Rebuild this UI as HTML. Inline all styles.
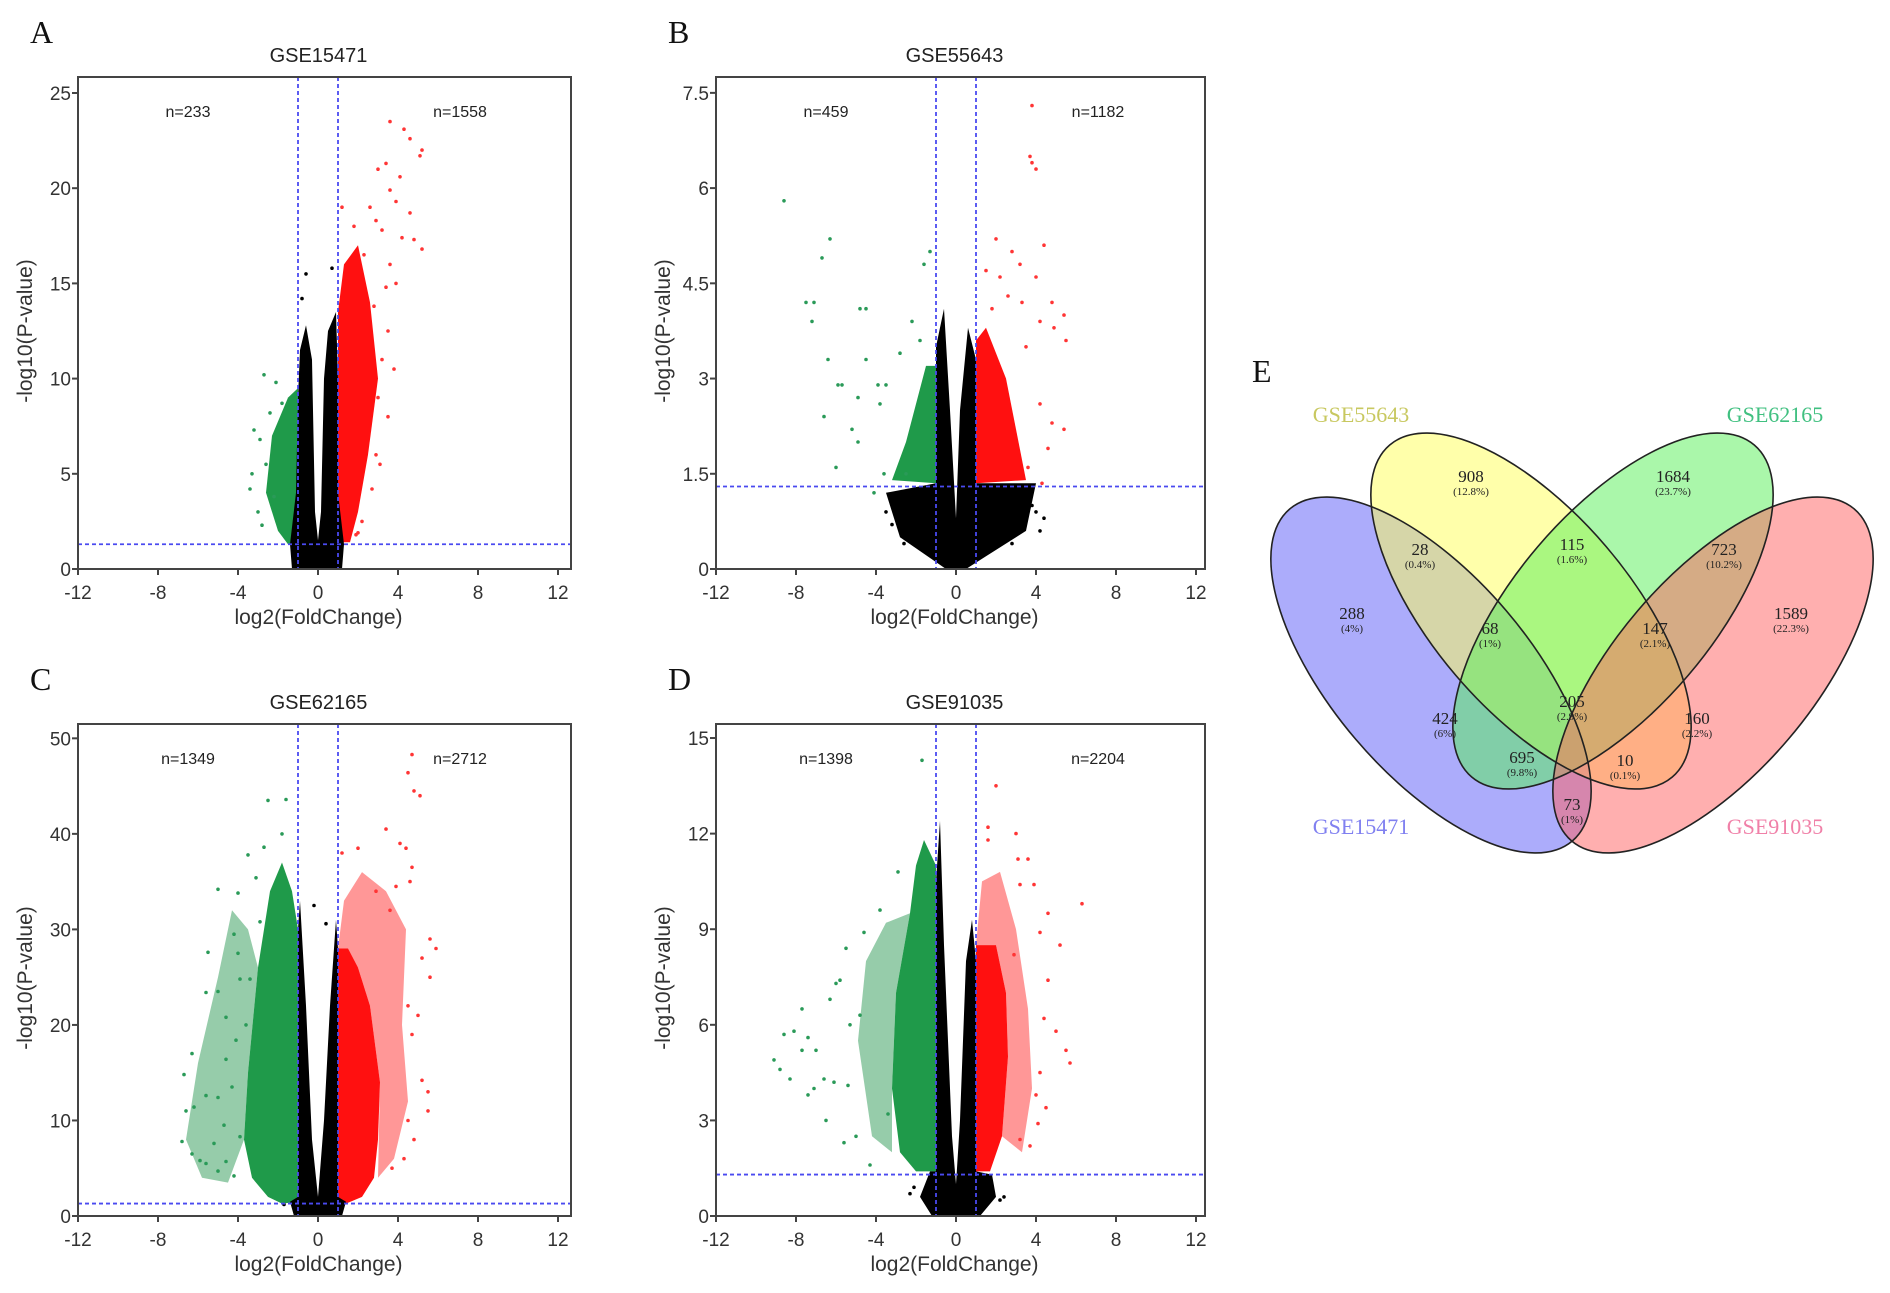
<!DOCTYPE html>
<html><head><meta charset="utf-8"><style>
html,body{margin:0;padding:0;background:#fff;}
svg{display:block;}
</style></head><body>
<svg id="fig" width="1890" height="1293" viewBox="0 0 1890 1293" xmlns="http://www.w3.org/2000/svg" font-family="Liberation Sans, sans-serif">
<rect width="1890" height="1293" fill="#fff"/>
<g id="venn"></g>
</svg>
<script>
// ---------- volcano data ----------
const xTicks = [-12,-8,-4,0,4,8,12];
const panelTitles = ["GSE15471","GSE55643","GSE62165","GSE91035"];
const panelLetters = ["A","B","C","D"];
const panelDown = ["n=233","n=459","n=1349","n=1398"];
const panelUp = ["n=1558","n=1182","n=2712","n=2204"];
const yTicksA = [0,5,10,15,20,25];
const yTicksB = [0,1.5,3,4.5,6,7.5];
const yTicksC = [0,10,20,30,40,50];
const yTicksD = [0,3,6,9,12,15];
const pCut = 1.3;
const fcCut = 1;

const blackA = [[-1.3,0],[-1.4,1.3],[-1.1,4],[-1.0,9],[-0.9,11.5],[-0.6,12.8],[-0.3,11],[-0.15,3],[0,1.5],[0.15,3],[0.3,10],[0.5,12.5],[0.9,13.5],[1.0,10],[1.0,4],[1.3,1.3],[1.2,0]];
const redCoreA = [[1,1.4],[1,13.5],[1.3,16],[2,17],[2.6,14],[3,10],[2.5,6],[2,3],[1.6,1.4]];
const greenCoreA = [[-1,1.4],[-1,9.5],[-1.5,9],[-2.3,7],[-2.6,4],[-2,2],[-1.5,1.3]];
const redPtsA = [[3.6,23.5],[4.3,23.1],[4.6,22.6],[5.2,22],[5.1,21.7],[3.0,21],[3.4,21.3],[4.1,20.6],[3.6,19.9],[3.9,19.3],[4.6,18.7],[2.6,19],[2.9,18.3],[3.2,17.8],[4.2,17.4],[5.2,16.8],[4.8,17.3],[1.2,19],[1.8,18],[2.3,16.5],[3.6,16],[3.4,14.8],[3.9,15],[2.8,13.8],[3.5,12.5],[3.2,11],[3.8,10.5],[3.0,9],[3.5,8],[2.9,6],[3.1,5.5],[2.7,4.2],[1.9,1.8],[2.2,2.5],[2.0,1.9]];
const greenPtsA = [[-2.7,10.2],[-2.1,9.8],[-3.2,7.3],[-2.9,6.8],[-3.4,4.2],[-2.6,5.5],[-3.0,3],[-2.2,3.8],[-2.8,2.3],[-1.8,8.7],[-2.4,8.2],[-3.3,5]];
const blackPtsA = [[-0.6,15.5],[-0.8,14.2],[0.7,15.8]];

const blackB = [[-0.5,0],[-2.8,0.5],[-3.5,1.2],[-1,1.35],[-1,3.5],[-0.6,4.1],[-0.3,2.5],[0,0.8],[0.2,2.5],[0.6,3.8],[1,3.3],[1,1.35],[4,1.35],[3.5,0.6],[1.5,0.2],[0.5,0]];
const redCoreB = [[1,1.35],[1,3.6],[1.5,3.8],[2.5,3],[3,2.2],[3.5,1.4]];
const greenCoreB = [[-1,1.35],[-1,3.2],[-1.5,3.2],[-2.5,2],[-3.2,1.4]];
const redPtsB = [[3.8,7.3],[3.7,6.5],[4.0,6.3],[3.8,6.4],[2.0,5.2],[2.8,5.0],[4.4,5.1],[3.2,4.8],[1.5,4.7],[2.2,4.6],[4.0,4.6],[4.8,4.2],[5.4,4.0],[4.9,3.8],[5.5,3.6],[4.2,3.9],[3.5,3.5],[4.2,2.6],[4.8,2.3],[5.4,2.2],[4.6,1.9],[3.6,1.6],[4.3,1.35],[3.3,4.2],[2.6,4.3],[1.8,4.1]];
const greenPtsB = [[-8.6,5.8],[-6.3,5.2],[-6.7,4.9],[-7.5,4.2],[-7.1,4.2],[-7.2,3.9],[-4.8,4.1],[-4.5,4.1],[-1.6,4.8],[-1.3,5.0],[-6.4,3.3],[-4.5,3.3],[-5.9,2.9],[-5.7,2.9],[-3.9,2.9],[-3.5,2.9],[-4.9,2.7],[-6.6,2.4],[-5.2,2.2],[-4.9,2.0],[-6.0,1.6],[-3.8,2.6],[-2.8,3.4],[-2.2,3.9],[-1.8,3.6],[-2.5,1.5],[-3.6,1.5],[-4.1,1.2]];
const blackPtsB = [[4.0,0.9],[4.4,0.8],[4.2,0.6],[3.8,1.0],[-3.5,0.9],[-3.2,0.7],[-2.6,0.4],[2.8,0.4]];

const blackC = [[-1.2,0],[-1.4,1.5],[-1,2],[-1,30],[-0.9,33],[-0.6,22],[-0.3,8],[0,2],[0.3,10],[0.6,22],[0.9,31],[1,28],[1,2],[1.4,1.5],[1.2,0]];
const greenCoreC = [[-1,1.5],[-1,30],[-1.3,34],[-1.8,37],[-2.4,34],[-3,26],[-3.5,15],[-3.7,8],[-3.3,4],[-2.5,2],[-1.8,1.3]];
const greenLightC = [[-3,26],[-3.5,30],[-4.3,32],[-5,25],[-6,16],[-6.6,8],[-5.8,4],[-4.5,3.5],[-3.7,8],[-3.5,15]];
const redCoreC = [[1,1.5],[1,28],[1.5,28],[2,26],[2.6,22],[3.1,14],[3.0,8],[2.8,4],[2.2,2],[1.4,1.3]];
const redLightC = [[1,28],[1.3,33],[2.2,36],[3.4,34],[4.4,30],[4.2,20],[4.5,12],[3.8,6],[3,4],[3.1,14],[2.6,22],[2,26]];
const redPtsC = [[4.7,48.3],[4.5,46.4],[4.8,44.5],[5.1,44],[3.4,40.5],[2,38.5],[4.4,38.5],[4.1,39],[4.7,36.5],[4.6,35],[3.9,34.5],[2.9,34],[3.6,32],[5.6,29],[5.9,28],[5.2,27],[5.6,25],[4.5,22],[5.0,21],[4.7,19],[5.2,14.2],[5.5,13],[5.5,11],[4.5,10],[4.8,8],[4.3,6],[3.7,5],[1.2,38]];
const greenPtsC = [[-2.5,43.5],[-1.6,43.6],[-1.8,40],[-2.7,38.6],[-3.5,37.8],[-4,33.8],[-5,34.2],[-5.5,27.6],[-4.2,29.5],[-3.9,24.8],[-3.4,24.8],[-5.6,23.4],[-5,23.5],[-4.6,20.8],[-4.1,18.4],[-6.3,17],[-6.7,14.8],[-5.6,12.6],[-5,12.4],[-6.6,11],[-6.2,11.4],[-6.8,7.8],[-6.3,6.5],[-5.9,5.8],[-5.6,5.5],[-5,4.7],[-4.6,5.7],[-4.2,4.2],[-4.7,9.5],[-5.2,7.6],[-3.9,8.3],[-4.3,13.5],[-4.6,16.4],[-3.6,20],[-4.0,27.5],[-2.9,30.8],[-3.1,35.4]];
const blackPtsC = [[-0.2,32.5],[0.4,30.6],[-1.7,1.2]];

const blackD = [[-1.2,0],[-1.8,0.6],[-1.3,1.4],[-1,1.4],[-1,10.5],[-0.8,12.4],[-0.6,8.5],[-0.2,2.5],[0,1],[0.2,3],[0.5,8],[0.8,9.3],[1,8],[1,1.4],[1.8,1.3],[2,0.6],[1.2,0]];
const greenCoreD = [[-1,1.4],[-1,11],[-1.6,11.8],[-2,11],[-2.3,9.5],[-3,7],[-3.2,4],[-2.8,2],[-2,1.4]];
const greenLightD = [[-2.3,9.5],[-3.5,9.2],[-4.5,8],[-4.9,5.5],[-4.2,2.5],[-3.2,2],[-3.2,4],[-3,7]];
const redCoreD = [[1,1.4],[1,8.5],[2,8.5],[2.5,7],[2.6,5],[2.3,2.5],[1.7,1.4]];
const redLightD = [[1,8.5],[1.3,10.5],[2.2,10.8],[3,9],[3.6,6.5],[3.8,4],[3.3,2],[2.3,2.5],[2.6,5],[2.5,7],[2,8.5]];
const greenPtsD = [[-1.7,14.3],[-9.1,4.9],[-8.6,5.7],[-8.1,5.8],[-8.8,4.6],[-8.3,4.3],[-7.7,5.2],[-7.4,5.6],[-7.0,5.2],[-7.1,4.0],[-7.4,3.8],[-7.7,6.5],[-6.3,6.8],[-5.5,8.4],[-4.6,8.9],[-5.8,7.4],[-6.0,7.3],[-6.6,4.3],[-6.1,4.2],[-5.4,4.1],[-6.5,3.0],[-5.6,2.3],[-5.0,2.5],[-4.3,1.6],[-4.8,6.3],[-5.3,6.0],[-3.8,9.6],[-2.9,10.8],[-3.4,3.2]];
const redPtsD = [[2.0,13.5],[1.6,12.2],[1.6,11.8],[3.0,12.0],[3.1,11.2],[3.6,11.2],[6.3,9.8],[4.6,9.5],[4.2,8.9],[5.2,8.5],[4.6,7.4],[3.2,10.4],[3.9,10.4],[5.0,5.8],[5.5,5.2],[5.7,4.8],[4.2,4.5],[4.5,3.4],[4.0,3.8],[4.1,2.9],[3.7,2.2],[3.2,2.4],[4.4,6.2],[2.9,8.2]];
const blackPtsD = [[2.4,0.6],[2.2,0.5],[-2.1,0.9],[-2.3,0.7]];

// ---------- venn data ----------
const vennSets = ["GSE15471","GSE55643","GSE62165","GSE91035"];
const vennCounts = ["908","1684","28","115","723","288","68","147","1589","424","205","160","695","10","73"];
const vennPercents = ["(12.8%)","(23.7%)","(0.4%)","(1.6%)","(10.2%)","(4%)","(1%)","(2.1%)","(22.3%)","(6%)","(2.9%)","(2.2%)","(9.8%)","(0.1%)","(1%)"];

const NS = "http://www.w3.org/2000/svg";
const svg = document.getElementById("fig");
function mk(tag, attrs, parent){
  const e = document.createElementNS(NS, tag);
  for (const k in attrs) e.setAttribute(k, attrs[k]);
  (parent||svg).appendChild(e);
  return e;
}

const panels = [
  {left:78, top:77, w:493, h:492, ymax:25.84, yt:yTicksA, black:blackA, gc:greenCoreA, gl:null, rc:redCoreA, rl:null, rp:redPtsA, gp:greenPtsA, bp:blackPtsA},
  {left:716, top:77, w:489, h:492, ymax:7.75, yt:yTicksB, black:blackB, gc:greenCoreB, gl:null, rc:redCoreB, rl:null, rp:redPtsB, gp:greenPtsB, bp:blackPtsB},
  {left:78, top:724, w:493, h:492, ymax:51.5, yt:yTicksC, black:blackC, gc:greenCoreC, gl:greenLightC, rc:redCoreC, rl:redLightC, rp:redPtsC, gp:greenPtsC, bp:blackPtsC},
  {left:716, top:724, w:489, h:492, ymax:15.44, yt:yTicksD, black:blackD, gc:greenCoreD, gl:greenLightD, rc:redCoreD, rl:redLightD, rp:redPtsD, gp:greenPtsD, bp:blackPtsD}
];

panels.forEach((p, i) => {
  const g = mk("g", {});
  
  
  const pxPerUnit = 20;
  const sx = v => p.left + (v + 12) * pxPerUnit;
  const sy = v => p.top + p.h - v / p.ymax * p.h;
  const poly = (pts, fill, op, name) => {
    const d = pts.map((q, j) => (j ? "L" : "M") + sx(q[0]).toFixed(1) + "," + sy(q[1]).toFixed(1)).join("") + "Z";
    const e = mk("path", {d: d, fill: fill, "fill-opacity": op}, g);
    
    
  };
  const dots = (pts, fill, name) => {
    pts.forEach(q => {
      const c = mk("circle", {cx: sx(q[0]).toFixed(1), cy: sy(q[1]).toFixed(1), r: 1.8, fill: fill}, g);
      
      
    });
  };
  const L = mk("text", {x: p.left - 48, y: p.top - 34, "font-family": "Liberation Serif, serif", "font-size": 32, fill: "#111"}, g);
  L.textContent = panelLetters[i];
  
  
  const T = mk("text", {x: p.left + p.w / 2 - 6, y: p.top - 15, "text-anchor": "middle", "font-size": 20, fill: "#222"}, g);
  T.textContent = panelTitles[i];
  
  
  if (p.gl) poly(p.gl, "#2e9a55", 0.5, "down-regulated-sparse-region");
  if (p.rl) poly(p.rl, "#ff3030", 0.5, "up-regulated-sparse-region");
  poly(p.gc, "#1f9a4a", 1, "down-regulated-dense-region");
  poly(p.rc, "#ff1010", 1, "up-regulated-dense-region");
  dots(p.gp, "#2a9a58", "down-regulated-gene");
  dots(p.rp, "#ff3535", "up-regulated-gene");
  poly(p.black, "#000", 1, "non-significant-dense-region");
  dots(p.bp, "#000", "non-significant-gene");
  [-fcCut, fcCut].forEach(v => {
    const l = mk("line", {x1: sx(v), x2: sx(v), y1: p.top, y2: p.top + p.h, stroke: "#4a4af0", "stroke-width": 1.8, "stroke-dasharray": "4,3"}, g);
    
    
  });
  const hl = mk("line", {x1: p.left, x2: p.left + p.w, y1: sy(pCut), y2: sy(pCut), stroke: "#4a4af0", "stroke-width": 1.8, "stroke-dasharray": "4,3"}, g);
  
  
  const fr = mk("rect", {x: p.left, y: p.top, width: p.w, height: p.h, fill: "none", stroke: "#444", "stroke-width": 2}, g);
  
  
  xTicks.forEach(v => {
    const t = mk("line", {x1: sx(v), x2: sx(v), y1: p.top + p.h, y2: p.top + p.h + 6, stroke: "#444", "stroke-width": 2}, g);
    
    
    const tx = mk("text", {x: sx(v), y: p.top + p.h + 30, "text-anchor": "middle", "font-size": 19, fill: "#333"}, g);
    tx.textContent = v;
    
    
  });
  p.yt.forEach(v => {
    const t = mk("line", {x1: p.left - 6, x2: p.left, y1: sy(v), y2: sy(v), stroke: "#444", "stroke-width": 2}, g);
    
    
    const tx = mk("text", {x: p.left - 7, y: sy(v) + 7, "text-anchor": "end", "font-size": 19, fill: "#333"}, g);
    tx.textContent = v;
    
    
  });
  const xl = mk("text", {x: p.left + p.w / 2 - 6, y: p.top + p.h + 55, "text-anchor": "middle", "font-size": 21, fill: "#333"}, g);
  xl.textContent = "log2(FoldChange)";
  
  
  const yl = mk("text", {x: 0, y: 0, "text-anchor": "middle", "font-size": 21, fill: "#333", transform: "translate(" + (p.left - 46) + "," + (p.top + p.h / 2 + 8) + ") rotate(-90)"}, g);
  yl.textContent = "-log10(P-value)";
  
  
  const nd = mk("text", {x: p.left + 110, y: p.top + 40, "text-anchor": "middle", "font-size": 16, fill: "#222"}, g);
  nd.textContent = panelDown[i];
  
  
  const nu = mk("text", {x: p.left + 382, y: p.top + 40, "text-anchor": "middle", "font-size": 16, fill: "#222"}, g);
  nu.textContent = panelUp[i];
  
  
});

// ---------- Venn ----------
const venn = document.getElementById("venn");
const E = mk("text", {x: 1252, y: 382, "font-family": "Liberation Serif, serif", "font-size": 32, fill: "#111"}, venn);
E.textContent = "E";


const RX = 218, RY = 99, ANG = 49.6;
const ells = [
  {cx:1431, cy:675, rot:ANG, fill:"#5a5af8", name:"set-gse15471"},
  {cx:1531, cy:611, rot:ANG, fill:"#ffff55", name:"set-gse55643"},
  {cx:1613, cy:611, rot:-ANG, fill:"#55f055", name:"set-gse62165"},
  {cx:1713, cy:675, rot:-ANG, fill:"#ff5f5f", name:"set-gse91035"}
];
ells.forEach(e => {
  const el = mk("ellipse", {cx: e.cx, cy: e.cy, rx: RX, ry: RY, fill: e.fill, "fill-opacity": 0.5, transform: "rotate(" + e.rot + " " + e.cx + " " + e.cy + ")"}, venn);
  
  
});
ells.forEach(e => {
  const el = mk("ellipse", {cx: e.cx, cy: e.cy, rx: RX, ry: RY, fill: "none", stroke: "#222", "stroke-width": 1.6, transform: "rotate(" + e.rot + " " + e.cx + " " + e.cy + ")"}, venn);
  
  
});
const setLabelPos = [[1361,834,"#8080f0"],[1361,422,"#c8c860"],[1775,422,"#40c080"],[1775,834,"#f080a8"]];
vennSets.forEach((s, i) => {
  const t = mk("text", {x: setLabelPos[i][0], y: setLabelPos[i][1], "text-anchor": "middle", "font-family": "Liberation Serif, serif", "font-size": 22, fill: setLabelPos[i][2]}, venn);
  t.textContent = s;
  
  
});
const regionPos = [[1471,478],[1673,478],[1420,551],[1572,546],[1724,551],[1352,615],[1490,630],[1655,630],[1791,615],[1445,720],[1572,703],[1697,720],[1522,759],[1625,762],[1572,806]];
vennCounts.forEach((c, i) => {
  const t = mk("text", {x: regionPos[i][0], y: regionPos[i][1] + 4, "text-anchor": "middle", "font-family": "Liberation Serif, serif", "font-size": 17, fill: "#222"}, venn);
  t.textContent = c;
  
  
  const q = mk("text", {x: regionPos[i][0], y: regionPos[i][1] + 17, "text-anchor": "middle", "font-family": "Liberation Serif, serif", "font-size": 11, fill: "#222"}, venn);
  q.textContent = vennPercents[i];
  
  
});
</script>
</body></html>
